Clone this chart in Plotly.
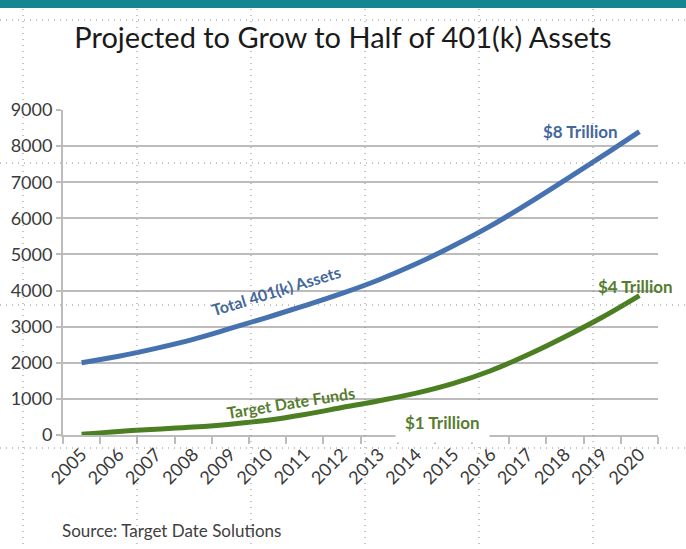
import plotly.graph_objects as go

# ---- data ----
years = ["2005", "2006", "2007", "2008", "2009", "2010", "2011", "2012",
         "2013", "2014", "2015", "2016", "2017", "2018", "2019", "2020"]
total_401k = [2000, 2180, 2400, 2650, 2950, 3260, 3580, 3920,
              4300, 4740, 5240, 5790, 6410, 7060, 7720, 8400]
target_date = [20, 100, 160, 220, 300, 410, 570, 760,
               950, 1160, 1430, 1780, 2220, 2720, 3260, 3860]
y_tick_vals = [0, 1000, 2000, 3000, 4000, 5000, 6000, 7000, 8000, 9000]

title_text = "Projected to Grow to Half of 401(k) Assets"
source_text = "Source: Target Date Solutions"

# ---- geometry ----
W_FIG, H_FIG = 686, 549
L, R, T, B = 63, 28, 110, 114
PW = W_FIG - L - R
PH = H_FIG - T - B


def px(x):
    return (x - L) / PW


def py(y):
    return (T + PH - y) / PH


FONT = "Lato, Liberation Sans, Arial, sans-serif"
BLUE = "#4673b0"
GREEN = "#4b7f22"
BLUE_TXT = "#44679b"
GREEN_TXT = "#567d2e"
GRID = "#bcbcbc"
TXT = "#3a3a3a"

fig = go.Figure()
fig.add_trace(go.Scatter(x=years, y=total_401k, mode="lines",
                         line=dict(color=BLUE, width=5, shape="spline"),
                         showlegend=False))
fig.add_trace(go.Scatter(x=years, y=target_date, mode="lines",
                         line=dict(color=GREEN, width=5, shape="spline"),
                         showlegend=False))

fig.update_layout(
    width=W_FIG, height=H_FIG,
    margin=dict(l=L, r=R, t=T, b=B),
    paper_bgcolor="white", plot_bgcolor="white",
    font=dict(family=FONT, color=TXT),
    title=dict(text=title_text, x=0.5, xanchor="center",
               y=1 - 38 / H_FIG, yanchor="middle", yref="container",
               font=dict(family=FONT, size=29, color="#1a1a1a")),
    xaxis=dict(type="category", range=[-0.5, 15.5], tickson="boundaries",
               ticks="outside", ticklen=7, tickcolor=GRID, tickwidth=2,
               showline=True, linecolor=GRID, linewidth=2,
               showgrid=False, tickangle=-45,
               tickfont=dict(family=FONT, size=18, color=TXT)),
    yaxis=dict(range=[0, 9000], tickvals=y_tick_vals,
               ticks="outside", ticklen=5, tickcolor=GRID, tickwidth=2,
               showline=True, linecolor=GRID, linewidth=2,
               showgrid=True, gridcolor=GRID, gridwidth=2, zeroline=False,
               tickfont=dict(family=FONT, size=18, color=TXT)),
)

annots = [
    dict(text="<b>$8 Trillion</b>", x=px(580), y=py(131.7), color=BLUE_TXT, angle=0, size=17),
    dict(text="<b>$4 Trillion</b>", x=px(635), y=py(286.7), color=GREEN_TXT, angle=0, size=17),
    dict(text="<b>Total 401(k) Assets</b>", x=px(276), y=py(290), color=BLUE_TXT, angle=-17, size=16),
    dict(text="<b>Target Date Funds</b>", x=px(290), y=py(402), color=GREEN_TXT, angle=-9, size=16),
]
for a in annots:
    fig.add_annotation(text=a["text"], x=a["x"], y=a["y"], xref="paper", yref="paper",
                       xanchor="center", yanchor="middle", showarrow=False,
                       textangle=a["angle"],
                       font=dict(family=FONT, size=a["size"], color=a["color"]))

fig.add_annotation(text="<b>$1 Trillion</b>", x=px(443), y=py(422), xref="paper", yref="paper",
                   xanchor="center", yanchor="middle", showarrow=False,
                   bgcolor="white", borderpad=9,
                   font=dict(family=FONT, size=17, color=GREEN_TXT))

fig.add_annotation(text=source_text, x=px(60), y=py(530), xref="paper", yref="paper",
                   xanchor="left", yanchor="middle", showarrow=False,
                   font=dict(family=FONT, size=17, color="#404040"))

shapes = []
# teal bar along the top
shapes.append(dict(type="rect", xref="paper", yref="paper",
                   x0=px(0), x1=px(W_FIG), y0=py(0), y1=py(8),
                   fillcolor="#138691", line=dict(width=0), layer="above"))
# dotted guide overlay
for gx in [23, 137, 251, 365, 479, 593]:
    shapes.append(dict(type="line", xref="paper", yref="paper",
                       x0=px(gx), x1=px(gx), y0=py(9), y1=py(H_FIG),
                       line=dict(color="#8a8a8a", width=1, dash="1px,5px"),
                       layer="above"))
for gy in [20, 163, 305, 448]:
    shapes.append(dict(type="line", xref="paper", yref="paper",
                       x0=px(0), x1=px(W_FIG), y0=py(gy), y1=py(gy),
                       line=dict(color="#8a8a8a", width=1, dash="1px,5px"),
                       layer="above"))
fig.update_layout(shapes=shapes)

fig.write_html("out.html")
